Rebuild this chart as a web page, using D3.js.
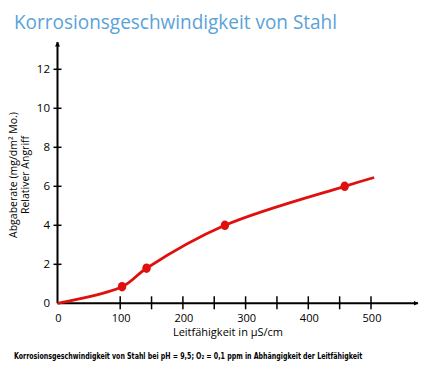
<!DOCTYPE html>
<html>
<head>
<meta charset="utf-8">
<script src="https://cdn.jsdelivr.net/npm/d3@7"></script>
<style>
  body { margin: 0; background: #fff; }
  svg { display: block; font-family: "Open Sans", "DejaVu Sans", sans-serif; }
</style>
</head>
<body>
<div id="chart"></div>
<script>
// curve points (conductivity µS/cm, rate)
const curveX = [0, 103, 142, 267, 458, 505];
const curveY = [0, 0.85, 1.8, 4.0, 6.0, 6.45];
// measured points
const pointX = [103, 142, 267, 458];
const pointY = [0.85, 1.8, 4.0, 6.0];
const xTickLabels = [0, 100, 200, 300, 400, 500];
const xTickMarks = [100, 150, 200, 250, 300, 350, 400, 450, 500];
const yTicks = [0, 2, 4, 6, 8, 10, 12];

const width = 428, height = 372;
const svg = d3.select('#chart').append('svg')
    .attr('width', width)
    .attr('height', height);

const x = d3.scaleLinear().domain([0, 500]).range([57.5, 371]);
const y = d3.scaleLinear().domain([0, 12]).range([303.3, 69.3]);

svg.append('text')
    .attr('x', 14).attr('y', 29)
    .attr('fill', '#5aa2d8')
    .attr('font-size', 20)
    .attr('textLength', 323)
    .attr('lengthAdjust', 'spacingAndGlyphs')
    .text('Korrosionsgeschwindigkeit von Stahl');

// axes lines with arrows
svg.append('defs').append('marker')
    .attr('id', 'arrow')
    .attr('viewBox', '0 0 10 10')
    .attr('refX', 9).attr('refY', 5)
    .attr('markerWidth', 5).attr('markerHeight', 5)
    .attr('markerUnits', 'userSpaceOnUse')
    .attr('orient', 'auto')
    .append('path').attr('d', 'M0,0L10,5L0,10z').attr('fill', '#000');

svg.append('line')
    .attr('x1', x(0)).attr('x2', x(0))
    .attr('y1', y(0)).attr('y2', 42)
    .attr('stroke', '#000').attr('stroke-width', 2)
    .attr('marker-end', 'url(#arrow)');
svg.append('line')
    .attr('x1', x(0)).attr('x2', 418)
    .attr('y1', y(0)).attr('y2', y(0))
    .attr('stroke', '#000').attr('stroke-width', 2)
    .attr('marker-end', 'url(#arrow)');

// y ticks
const yg = svg.append('g');
yg.selectAll('line').data(yTicks.filter(d => d > 0)).enter().append('line')
    .attr('x1', x(0) - 4).attr('x2', x(0) + 4)
    .attr('y1', d => y(d)).attr('y2', d => y(d))
    .attr('stroke', '#000').attr('stroke-width', 1.5);
yg.selectAll('text').data(yTicks).enter().append('text')
    .attr('x', 50).attr('y', d => y(d) + 4)
    .attr('text-anchor', 'end')
    .attr('font-size', 11.5)
    .text(d => d);

// x ticks
const xg = svg.append('g');
xg.selectAll('line').data(xTickMarks).enter().append('line')
    .attr('x1', d => x(d)).attr('x2', d => x(d))
    .attr('y1', y(0) - 7).attr('y2', y(0) + 6)
    .attr('stroke', '#000').attr('stroke-width', 1.5);
xg.selectAll('text').data(xTickLabels).enter().append('text')
    .attr('x', d => x(d) + 1).attr('y', 321.5)
    .attr('text-anchor', 'middle')
    .attr('font-size', 11)
    .text(d => d);

svg.append('text')
    .attr('x', 228).attr('y', 335.5)
    .attr('text-anchor', 'middle')
    .attr('font-size', 11)
    .text('Leitfähigkeit in µS/cm');

const yl = svg.append('text')
    .attr('transform', 'translate(17,175) rotate(-90)')
    .attr('text-anchor', 'middle')
    .attr('font-size', 10.5);
yl.append('tspan').attr('x', 0).attr('dy', 0).text('Abgaberate (mg/dm² Mo.)');
yl.append('tspan').attr('x', 0).attr('dy', 12).text('Relativer Angriff');

// curve
const pts = curveX.map((d, i) => [d, curveY[i]]);
const line = d3.line()
    .x(d => x(d[0])).y(d => y(d[1]))
    .curve(d3.curveCatmullRom.alpha(0.5));
svg.append('path')
    .attr('d', line(pts))
    .attr('fill', 'none')
    .attr('stroke', '#e0100e')
    .attr('stroke-width', 2.8);

svg.selectAll('ellipse.pt').data(pointX).enter().append('ellipse')
    .attr('class', 'pt')
    .attr('cx', d => x(d))
    .attr('cy', (d, i) => y(pointY[i]))
    .attr('rx', 4.2).attr('ry', 4.8)
    .attr('fill', '#e0100e');

// caption: squeeze horizontally to the reference width
const cap = svg.append('text')
    .attr('font-family', '"Liberation Sans Narrow", "DejaVu Sans Condensed", "Open Sans", sans-serif')
    .attr('font-size', 9)
    .attr('font-weight', 'bold')
    .text('Korrosionsgeschwindigkeit von Stahl bei pH = 9,5; O₂ = 0,1 ppm in Abhängigkeit der Leitfähigkeit');
const capLen = cap.node().getComputedTextLength();
cap.attr('transform', `translate(14,359) scale(${349 / capLen},1)`);
</script>
</body>
</html>
